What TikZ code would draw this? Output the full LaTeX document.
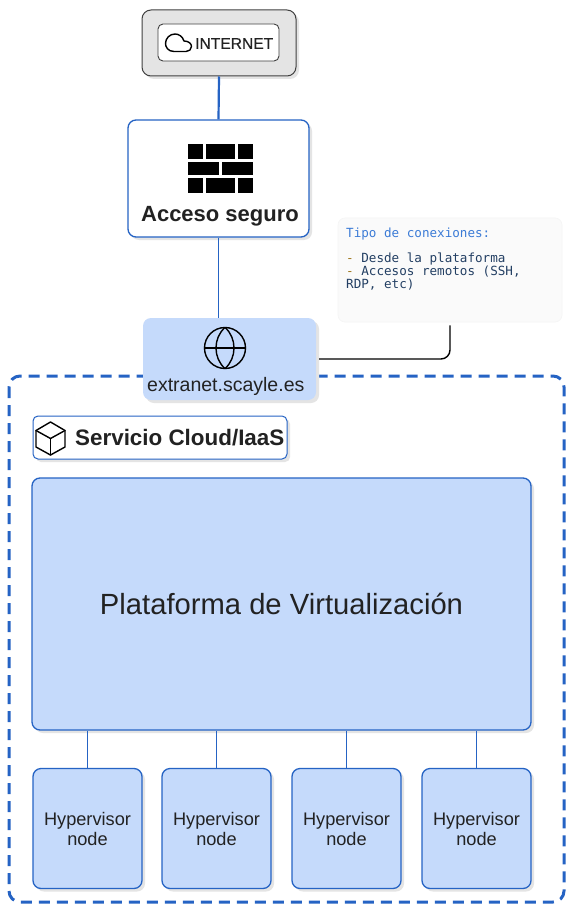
\documentclass[tikz,border=0pt]{standalone}
\usepackage{fontspec}
\setmainfont{Liberation Sans}
\newfontfamily\monof{DejaVu Sans Mono}
\newfontfamily\medf[FakeBold=0.35]{Liberation Sans}
\usetikzlibrary{shadows}
\definecolor{bluel}{HTML}{2563C4}
\definecolor{bluef}{HTML}{C5DAFB}
\definecolor{shade}{HTML}{E4E4E4}
\definecolor{ink}{HTML}{222222}
\definecolor{notefill}{HTML}{FAFAFA}
\definecolor{notehead}{HTML}{3B7BD6}
\definecolor{notedash}{HTML}{A0781E}
\definecolor{notetext}{HTML}{233F63}
\tikzset{
  box/.style={draw=bluel,line width=1.3pt,rounded corners=8pt,inner sep=0pt,text=ink,align=center,
     drop shadow={shadow xshift=3pt,shadow yshift=-3pt,fill=shade,opacity=1}},
  bluebox/.style={box,fill=bluef},
  whitebox/.style={box,fill=white},
  grey/.style={draw=black!75,line width=1pt,rounded corners=9pt,fill=shade,
     drop shadow={shadow xshift=3pt,shadow yshift=-3pt,fill=shade,opacity=1}},
  link/.style={draw=bluel,line width=1.4pt},
  icon/.style={draw=black,line width=1.4pt,line join=round,line cap=round},
  lbl/.style={inner sep=0pt,text=ink,align=center},
}
\newcommand{\sz}[1]{\fontsize{#1}{#1}\selectfont}
\begin{document}
\begin{tikzpicture}[x=1pt,y=-1pt]
\useasboundingbox[fill=white] (0,0) rectangle (580,917);

% outer dashed frame
\draw[bluel,line width=3pt,dash pattern=on 11pt off 7pt,rounded corners=11pt] (9,376) rectangle (564,902);

% top
\node[grey,minimum width=154pt,minimum height=66pt] (inet) at (219,43) {};
\node[draw=black!75,line width=0.9pt,rounded corners=5pt,fill=white,minimum width=121pt,minimum height=37pt] (inetin) at (218.5,42.5) {};
\node[lbl,anchor=west,font=\medf\sz{15.6}] (inettxt) at (195,43.5) {INTERNET};
\draw[icon] (174,51.5) .. controls (168,51.5) and (165.5,47) .. (165.5,43.5)
  .. controls (165.5,38) and (170,34) .. (175,34)
  .. controls (179,34) and (182.5,36.5) .. (184,41)
  .. controls (189,41) and (191.5,44) .. (191.5,46.5)
  .. controls (191.5,49.5) and (189,51.5) .. (186,51.5) -- cycle;

\node[whitebox,minimum width=181pt,minimum height=117pt] (acc) at (218.5,178.5) {};
\node[lbl,font=\bfseries\sz{22}] (acctxt) at (220,216.5) {Acceso seguro};
\foreach \y/\h in {144/15,178/15}{
  \fill[black] (188,\y) rectangle ++(15,\h);
  \fill[black] (206,\y) rectangle ++(29,\h);
  \fill[black] (237.5,\y) rectangle ++(15,\h);
}
\fill[black] (188,162) rectangle (219,175);
\fill[black] (221.5,162) rectangle (252.5,175);

\draw[bluel,line width=2.2pt] (inet.south) -- (acc.north);

% note
\node[draw=black!4,line width=0.6pt,fill=notefill,rounded corners=7pt,minimum width=224pt,minimum height=104pt] (note) at (450,270) {};
\node[inner sep=0pt,anchor=west,text=notehead,font=\monof\sz{12.6}] (n1) at (346,234) {Tipo de conexiones:};
\node[inner sep=0pt,anchor=west,text=notetext,font=\monof\sz{12.6}] (n2) at (346,259) {\textcolor{notedash}{-} Desde la plataforma};
\node[inner sep=0pt,anchor=west,text=notetext,font=\monof\sz{12.6}] (n3) at (346,272) {\textcolor{notedash}{-} Accesos remotos (SSH,};
\node[inner sep=0pt,anchor=west,text=notetext,font=\monof\sz{12.6}] (n4) at (346,285) {RDP, etc)};

% extranet
\node[fill=bluef,rounded corners=8pt,minimum width=173pt,minimum height=82pt,
  drop shadow={shadow xshift=3pt,shadow yshift=-3pt,fill=shade,opacity=1}] (ext) at (229.5,359) {};
\node[lbl,anchor=west,font=\sz{19.5}] (exttxt) at (147,386) {extranet.scayle.es};
\draw[icon] (225,348) circle (20.5pt);
\draw[icon] (204.5,348) -- (245.5,348);
\draw[icon] (225,327.5) .. controls (213,338) and (213,358) .. (225,368.5)
  .. controls (237,358) and (237,338) .. (225,327.5);

\draw[link] (acc.south) -- (acc.south |- ext.north);
\draw[black,line width=1.4pt,rounded corners=9pt,shorten <=3pt,shorten >=3pt] (note.south) |- (ext.east);

% service
\node[whitebox,line width=1pt,rounded corners=5pt,minimum width=254pt,minimum height=43pt] (serv) at (160,437.5) {};
\node[lbl,anchor=west,font=\bfseries\sz{22.4}] (servtxt) at (75,437.5) {Servicio Cloud/IaaS};
\draw[icon] (50.5,422) -- (65,430.5) -- (65,447) -- (50.5,455) -- (36,447) -- (36,430.5) -- cycle;
\draw[icon] (36,430.5) -- (50.5,438.5) -- (65,430.5);
\draw[icon] (50.5,438.5) -- (50.5,455);

% platform
\node[bluebox,minimum width=499pt,minimum height=252pt,font=\sz{29.2}] (plat) at (281.5,604) {Plataforma de Virtualización};

% hypervisors
\foreach \i/\cx in {1/87.5,2/216.5,3/346.5,4/476.5}{
  \node[bluebox,minimum width=109pt,minimum height=120pt,font=\sz{18.2},execute at begin node={\baselineskip=20pt}] (hv\i) at (\cx,828.5) {Hypervisor\\node};
  \draw[bluel,line width=1pt] (hv\i.north) -- (hv\i.north |- plat.south);
}
\end{tikzpicture}
\end{document}
